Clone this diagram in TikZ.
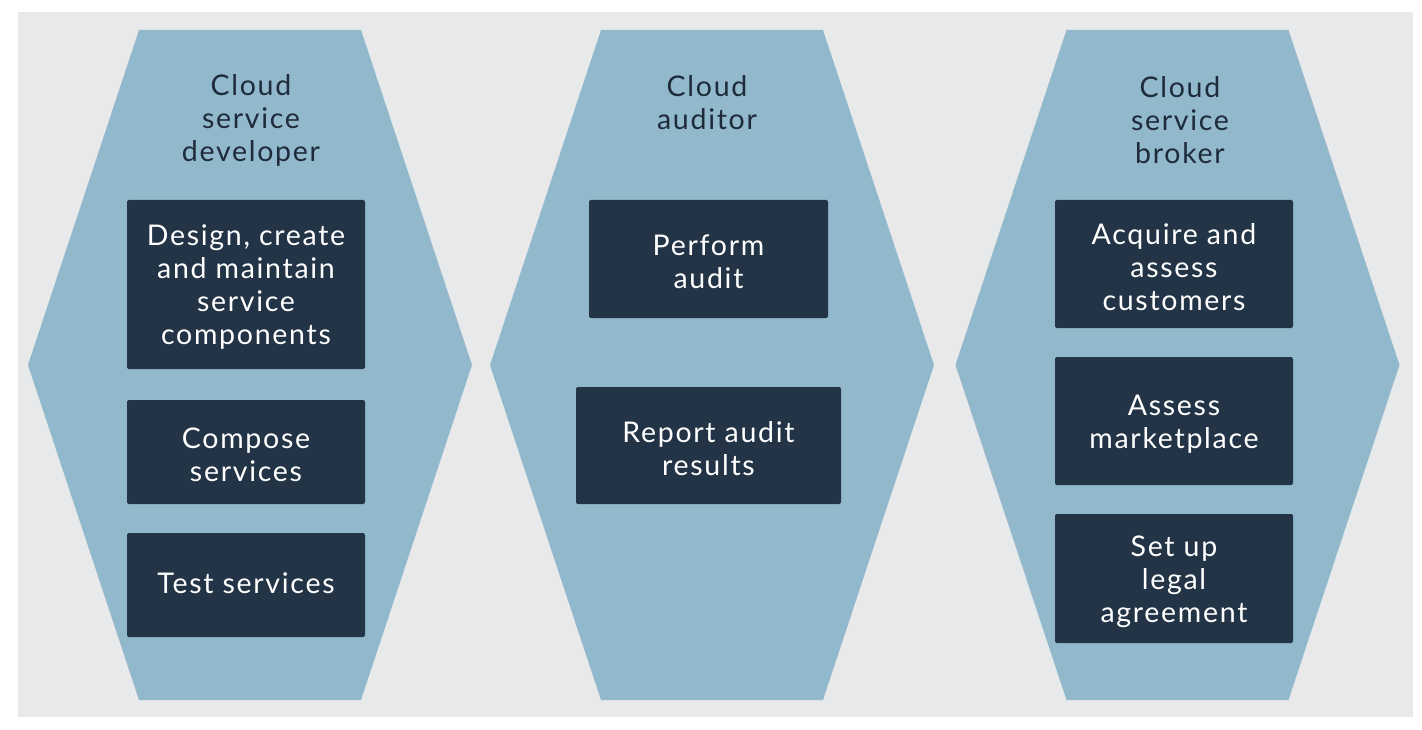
\documentclass[tikz,border=0pt]{standalone}
\usepackage{fontspec}
\setmainfont{Lato}[LetterSpace=6]
\definecolor{bgc}{HTML}{E8E9EB}
\definecolor{hexc}{HTML}{92B8CB}
\definecolor{boxc}{HTML}{233447}
\definecolor{titc}{HTML}{1E2B3A}
\tikzset{
  rolebox/.style={fill=boxc, draw=none, rounded corners=2pt, inner sep=0pt},
  boxtext/.style={text=white, align=center, font=\fontsize{28.5}{33}\selectfont, inner sep=0pt},
  roletitle/.style={text=titc, align=center, font=\fontsize{28.5}{33}\selectfont, inner sep=0pt},
}
\newcommand{\rbox}[7]{% name, x, y, w, h, text shift, text
  \node[rolebox, minimum width=#4pt, minimum height=#5pt] (#1) at (#2,#3) {};
  \node[boxtext] (#1t) at ([yshift=#6pt]#1.center) {#7};
}
\begin{document}
\begin{tikzpicture}[x=1pt,y=-1pt]
\useasboundingbox (0,0) rectangle (1422,730);
\fill[bgc] (18,12) rectangle (1413,717);
% hexagons
\foreach \c in {250,712,1177.5}{
  \fill[hexc] (\c-111,30) -- (\c+111,30) -- (\c+222,365) -- (\c+111,700) -- (\c-111,700) -- (\c-222,365) -- cycle;
}
% titles
\node[roletitle] (t1) at (251,120) {Cloud\\service\\developer};
\node[roletitle] (t2) at (707,103) {Cloud\\auditor};
\node[roletitle] (t3) at (1180,120) {Cloud\\service\\broker};
% column 1
\rbox{b11}{246}{284.5}{238}{169}{-3}{Design, create\\and maintain\\service\\components}
\rbox{b12}{246}{452}{238}{104}{-3}{Compose\\services}
\rbox{b13}{246}{585}{238}{104}{2}{Test services}
% column 2
\rbox{b21}{708.5}{259}{239}{118}{-3}{Perform\\audit}
\rbox{b22}{708.5}{445.5}{265}{117}{-3}{Report audit\\results}
% column 3
\rbox{b31}{1174}{264}{238}{128}{-3}{Acquire and\\assess\\customers}
\rbox{b32}{1174}{421}{238}{128}{-3}{Assess\\marketplace}
\rbox{b33}{1174}{578.5}{238}{129}{-3}{Set up\\legal\\agreement}
\end{tikzpicture}
\end{document}
